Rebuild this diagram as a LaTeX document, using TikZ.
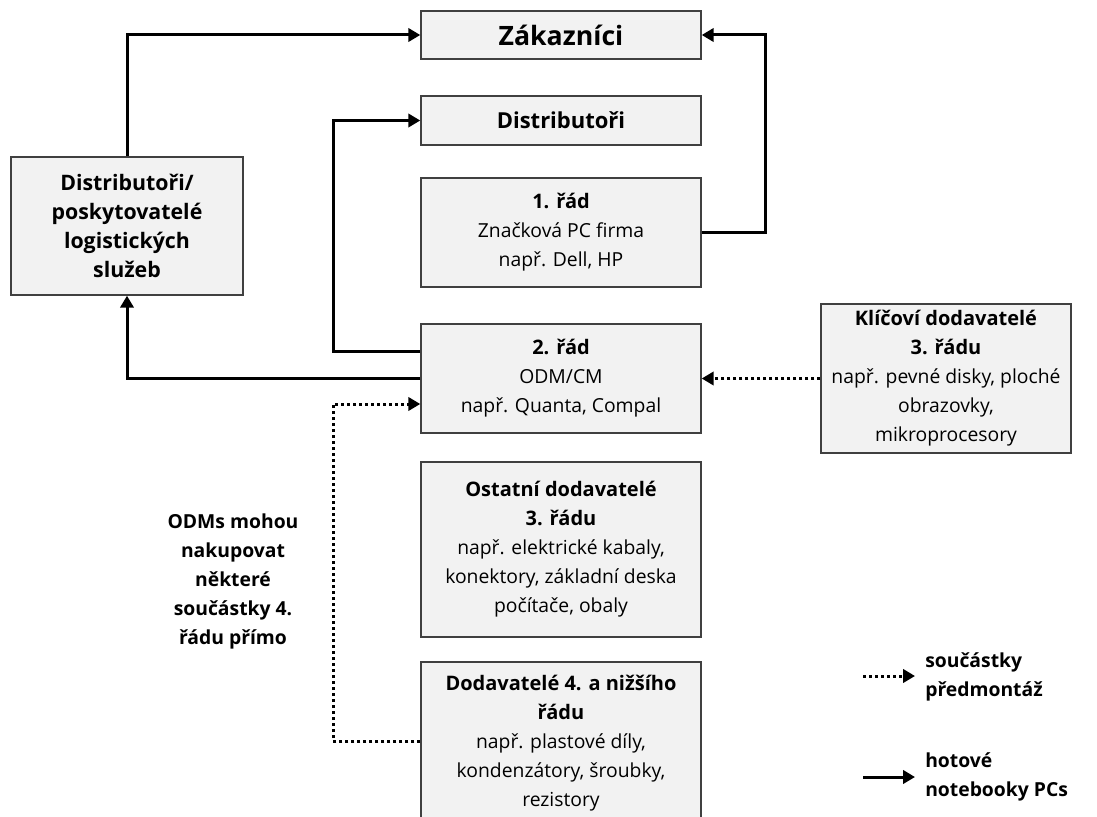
\documentclass[tikz,border=0pt]{standalone}
\usepackage{fontspec}
\setmainfont{Open Sans}
\usetikzlibrary{arrows.meta,calc}
\newcommand{\hd}{\fontsize{15}{21.75}\selectfont\bfseries}
\begin{document}
\begin{tikzpicture}[x=0.75pt, y=-0.75pt,
    box/.style={draw=black!75, line width=1.1pt, fill=black!5, align=center, inner sep=0pt,
        font=\fontsize{14.5}{21.75}\selectfont},
    flow/.style={line width=2.25pt, -{Triangle[length=9pt,width=10pt]}},
    supply/.style={flow, dash pattern=on 2.25pt off 2.25pt},
    note/.style={inner sep=0pt, font=\fontsize{14.5}{21.75}\selectfont\bfseries}]
        \useasboundingbox (0,0) rectangle (1097,817);

        % Customers and distribution
        \node[box, minimum width=210pt, minimum height=36pt] (zak) at (561,35)
            {\fontsize{20}{24}\selectfont\bfseries Zákazníci};
        \node[box, minimum width=210pt, minimum height=36.75pt] (dist) at (561,120.5)
            {\fontsize{16.5}{21.75}\selectfont\bfseries Distributoři};
        \node[box, minimum width=174pt, minimum height=103.5pt, font=\fontsize{16}{21.75}\selectfont\bfseries] (log) at (127,226)
            {Distributoři/\\poskytovatelé\\logistických\\služeb};

        % Tiers
        \node[box, minimum width=210pt, minimum height=81.75pt] (r1) at (561,232.5)
            {\hd 1. řád\\Značková PC firma\\např. Dell, HP};
        \node[box, minimum width=210pt, minimum height=81.75pt] (r2) at (561,378.5)
            {\hd 2. řád\\ODM/CM\\např. Quanta, Compal};
        \node[box, minimum width=187.5pt, minimum height=111.75pt] (key) at (946,378.5)
            {\hd Klíčoví dodavatelé\\\hd 3. řádu\\např. pevné disky, ploché\\obrazovky,\\mikroprocesory};
        \node[box, minimum width=210pt, minimum height=131.25pt] (other) at (561,549.5)
            {\hd Ostatní dodavatelé\\\hd 3. řádu\\např. elektrické kabaly,\\konektory, základní deska\\počítače, obaly};
        \node[box, minimum width=210pt, minimum height=121.5pt] (r4) at (561,743)
            {\hd Dodavatelé 4. a nižšího\\\hd řádu\\např. plastové díly,\\kondenzátory, šroubky,\\rezistory};

        % Finished products
        \draw[flow] (log.north) |- (zak.west);
        \draw[flow] (r1.east) -- ++(64,0) |- (zak.east);
        \draw[flow] ($(r2.west)+(0,-27)$) -- ++(-87,0) |- (dist.west);
        \draw[flow] (r2.west) -| (log.south);

        % Components
        \draw[supply] (key.west) -- (r2.east);
        \draw[supply] ($(r4.west)+(0,-2)$) -- ++(-87,0) |- ($(r2.west)+(0,25.5)$);

        \node[note, align=center] (odm) at (233,581)
            {ODMs mohou\\nakupovat\\některé\\součástky 4.\\řádu přímo};

        % Legend
        \coordinate (l1a) at (863,676);
        \coordinate (l1b) at (915,676);
        \coordinate (l2a) at (863,777);
        \coordinate (l2b) at (915,777);
        \draw[supply] (l1a) -- (l1b);
        \draw[flow] (l2a) -- (l2b);
        \node[note, anchor=west, align=left] (lg1) at (925,677)
            {součástky\\předmontáž};
        \node[note, anchor=west, align=left] (lg2) at (925,777)
            {hotové\\notebooky PCs};
    \end{tikzpicture}
\end{document}
